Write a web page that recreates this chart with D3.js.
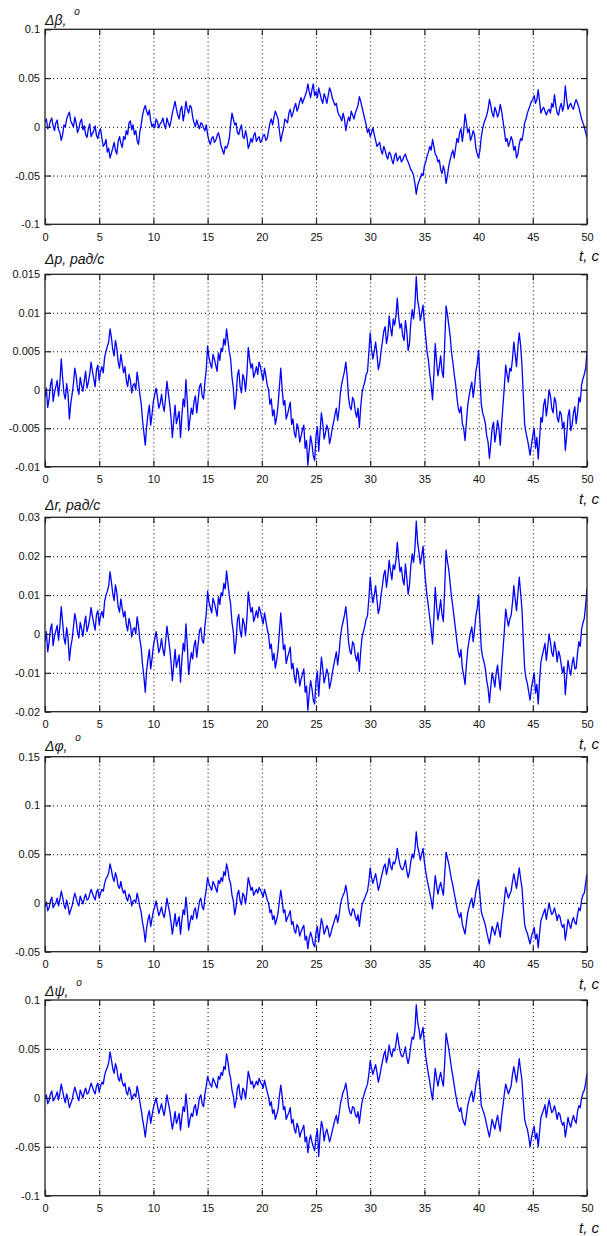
<!DOCTYPE html>
<html>
<head>
<meta charset="utf-8">
<script src="https://cdn.jsdelivr.net/npm/d3@7"></script>
<style>
  body { margin: 0; background: #fff; }
  svg text { font-family: "Liberation Sans", Arial, sans-serif; fill: #111; }
</style>
</head>
<body>
<svg id="chart" width="607" height="1236"></svg>
<script>
// Sampling of every series: one value each 0.125 s, from 0 to 50 s
const timeStep = 0.125;
const xTicks = [0, 5, 10, 15, 20, 25, 30, 35, 40, 45, 50];
const xTickLabels = ["0", "5", "10", "15", "20", "25", "30", "35", "40", "45", "50"];

// Series values, in thousandths of the unit shown on each panel (one row = 5 s)
const dBeta = [
  5,8,-2,0,6,9,1,-4,4,7,-3,-6,-14,-8,2,0,8,12,15,6,3,0,10,4,-6,-2,5,8,-3,1,-8,-11,-2,3,-10,-7,-4,1,-9,-12,
  -5,-2,-12,-20,-18,-13,-26,-22,-32,-27,-22,-16,-24,-28,-15,-10,-17,-21,-10,-13,-4,-8,4,6,-3,2,-8,-4,-14,-18,-5,2,12,18,22,16,12,17,6,0,
  3,-1,8,5,-1,3,5,9,2,-2,9,4,0,6,14,20,26,18,12,8,18,21,6,14,26,18,14,22,20,10,4,0,7,2,-2,4,3,-1,-4,2,
  -8,-14,-18,-12,-10,-16,-14,-9,-6,-12,-20,-24,-28,-20,-22,-18,-12,2,14,8,2,4,-6,-8,-2,2,-10,-12,-4,-10,-22,-18,-12,-16,-9,-6,-15,-12,-10,-16,
  -14,-9,-8,-14,-12,-4,4,8,2,10,16,12,8,-4,-15,-8,-2,8,6,4,14,18,10,14,20,24,16,20,26,30,24,28,32,36,44,36,30,38,44,32,
  36,30,40,34,28,24,34,30,24,32,40,36,30,26,22,24,16,12,10,6,14,8,-4,4,10,6,16,12,8,14,18,22,31,26,20,14,8,2,-6,-2,
  -10,-6,-1,-8,-14,-20,-18,-16,-24,-28,-20,-24,-30,-33,-26,-28,-34,-38,-30,-27,-35,-32,-30,-36,-34,-30,-28,-33,-36,-40,-44,-46,-50,-58,-69,-60,-56,-52,-48,-50,
  -40,-36,-30,-26,-20,-24,-13,-20,-28,-30,-36,-34,-44,-48,-40,-46,-58,-50,-40,-34,-28,-24,-32,-22,-12,-16,-6,-2,-15,-4,13,4,-6,-2,-14,-10,-4,-8,-22,-28,
  -32,-24,-10,-2,4,8,12,18,28,22,14,10,20,16,10,14,23,16,6,-4,-15,-12,-20,-16,-10,-14,-24,-20,-32,-28,-18,-12,-14,-6,4,8,14,18,22,26,
  28,32,24,28,38,26,14,18,20,16,12,16,18,14,24,20,33,22,14,12,20,24,16,22,42,28,18,22,24,20,18,24,28,24,20,14,8,4,0,-6,-11
];
const dP = [
  -1.0,0.2,-2.3,-1.2,0.6,1.4,-1.5,-0.4,0.4,1.2,-0.8,1.0,4.0,1.6,-0.5,-1.2,0.8,-0.6,-3.8,-1.8,-0.6,0.8,2.8,1.8,0.2,-0.6,1.6,0.6,-0.2,1.2,2.4,0.2,1.0,2.0,3.6,2.4,1.4,0.4,2.6,3.2,
  1.2,2.4,3.0,2.2,4.2,5.0,5.6,6.2,7.9,6.8,5.2,4.4,6.4,5.4,3.6,2.8,4.6,3.4,2.2,3.0,1.2,0.4,2.0,1.2,-0.4,0.6,0.8,0.0,2.3,1.0,-0.6,-1.8,-4.0,-5.6,-7.2,-4.8,-3.2,-2.0,-4.6,-3.2,
  -1.5,-0.6,0.2,-1.0,-2.4,-1.8,-0.6,-2.0,-2.8,-1.0,1.1,-0.4,-1.8,-3.6,-6.2,-4.0,-2.0,-4.4,-3.6,-2.8,-6.2,-3.4,-1.2,-2.2,1.3,-1.4,-5.3,-3.8,-2.4,-3.2,-1.5,-0.8,-3.0,-1.4,0.4,0.8,-0.8,-1.2,1.0,2.6,
  5.7,4.2,3.4,2.8,4.6,4.0,3.2,2.4,4.8,3.8,5.4,5.0,6.6,5.8,7.9,6.4,5.0,4.0,1.6,0.2,-2.5,-1.0,1.8,2.6,0.4,-0.4,2.0,1.4,-0.2,2.0,5.5,4.0,2.8,3.4,1.6,2.2,3.0,2.0,3.6,3.0,
  2.0,1.2,2.8,1.8,0.6,0.0,-1.9,-1.2,-3.4,-2.6,-4.5,-3.6,-2.0,0.4,2.8,0.2,-2.0,-1.4,-3.8,-3.2,-2.4,-1.6,-4.5,-3.8,-5.6,-6.2,-4.4,-5.0,-6.8,-6.0,-5.2,-4.6,-7.6,-6.6,-9.8,-7.8,-6.0,-7.0,-8.6,-9.2,
  -6.0,-4.8,-8.0,-5.4,-3.0,-4.4,-6.4,-5.6,-4.6,-5.2,-7.0,-6.2,-5.0,-4.2,-3.2,-2.4,-4.0,-2.6,-0.4,0.8,1.6,2.4,3.6,1.8,-1.0,-2.2,-2.6,-1.0,-1.4,-2.8,-3.6,-2.4,-4.9,-2.2,-0.4,0.4,1.0,2.0,2.3,4.8,
  7.4,5.2,4.0,5.0,6.2,4.6,2.6,3.4,5.0,6.2,7.6,8.2,6.0,7.0,9.6,8.0,7.0,9.2,8.4,9.6,11.9,9.4,8.0,8.6,7.0,6.4,9.0,7.6,5.1,6.0,8.8,10.4,9.2,11.0,14.7,11.6,10.6,9.0,10.0,11.0,
  8.6,6.8,4.9,3.8,2.0,0.6,-1.3,2.0,6.0,3.6,1.8,3.0,4.4,2.4,1.6,6.0,10.9,9.8,8.4,7.0,4.9,3.6,2.0,0.8,-1.0,-2.4,-3.0,-2.2,-4.4,-5.0,-6.6,-4.2,-2.0,-0.8,0.2,1.0,-1.0,0.4,2.4,3.4,
  5.1,1.4,-1.9,-3.0,-3.6,-4.4,-6.0,-6.8,-8.9,-7.0,-5.0,-4.2,-6.8,-5.6,-4.0,-5.0,-7.2,-4.4,-2.0,0.4,3.2,2.0,1.0,2.8,2.4,4.0,6.2,4.6,3.0,5.6,7.4,5.8,3.2,-0.8,-4.5,-5.6,-6.4,-7.4,-8.5,-7.2,
  -6.0,-5.0,-7.6,-6.2,-9.0,-6.4,-3.6,-4.2,-2.0,-1.2,-3.4,-2.0,0.0,-0.8,-2.4,-3.0,-1.0,-1.6,-3.6,-4.2,-2.8,-3.2,-5.0,-4.2,-7.9,-6.0,-3.4,-2.6,-5.3,-4.6,-3.0,-2.2,-4.4,-3.0,-1.0,-1.6,0.6,1.4,2.0,2.8,4.9
];
const dR = [
  -2.0,0.6,-4.6,-2.2,1.2,2.6,-3.0,-0.6,0.8,2.2,-1.6,2.0,7.0,3.0,-1.0,-2.6,1.6,-1.0,-6.8,-3.4,-1.4,1.8,5.2,3.4,0.4,-1.0,3.0,1.4,-0.6,2.4,4.6,0.6,2.0,4.0,6.8,4.6,2.6,1.0,5.0,6.0,
  2.4,4.6,5.8,4.2,8.4,10.0,11.0,12.4,16.0,13.4,10.4,8.6,12.6,10.6,7.0,5.6,9.0,6.6,4.4,5.8,2.4,0.8,4.0,2.4,-0.8,1.2,1.6,0.0,4.4,2.0,-1.4,-3.6,-8.0,-11.0,-15.0,-9.4,-6.4,-4.0,-9.0,-6.4,
  -3.0,-1.2,0.6,-2.0,-4.8,-3.6,-1.2,-4.0,-5.6,-2.0,2.0,-0.8,-3.6,-7.2,-12.0,-8.0,-4.0,-8.6,-7.0,-5.4,-12.4,-6.8,-2.4,-4.4,2.6,-2.8,-10.4,-7.4,-4.8,-6.4,-3.0,-1.6,-6.0,-2.8,0.8,1.6,-1.6,-2.4,2.0,5.2,
  11.0,8.2,6.8,5.4,9.2,8.0,6.4,4.6,9.6,7.6,10.6,9.8,13.0,11.6,16.2,13.0,10.0,7.6,3.0,0.4,-5.0,-2.0,3.6,5.0,0.8,-0.8,4.0,2.6,-0.4,3.8,10.8,8.0,5.6,6.8,3.2,4.4,6.0,4.2,7.0,5.8,
  4.0,2.6,5.4,3.4,1.2,-0.2,-3.8,-2.6,-6.8,-5.0,-8.8,-6.8,-4.0,0.6,5.4,0.8,-4.0,-2.8,-7.6,-6.0,-4.8,-3.4,-9.0,-7.6,-11.0,-12.6,-8.8,-10.0,-13.4,-11.6,-10.4,-9.0,-15.0,-13.4,-19.6,-15.4,-12.0,-14.0,-17.0,-18.0,
  -12.0,-9.6,-16.0,-10.8,-6.0,-9.0,-12.6,-11.0,-9.0,-10.4,-14.0,-12.4,-10.0,-8.2,-6.4,-4.6,-8.0,-5.0,-0.8,1.6,3.2,4.8,7.0,3.6,-2.0,-4.4,-5.2,-2.0,-2.8,-5.6,-7.0,-4.8,-9.6,-4.4,-0.8,0.6,2.0,3.8,4.6,9.0,
  14.6,10.6,8.0,10.0,12.4,8.8,5.2,6.8,10.0,12.4,15.2,16.4,12.0,14.8,19.0,16.2,14.0,17.8,16.6,19.0,23.6,19.4,16.0,17.2,14.0,12.6,18.0,14.4,10.2,12.6,17.6,20.6,18.4,22.0,29.0,23.6,21.0,18.0,20.0,22.6,
  17.0,13.0,9.6,7.0,4.0,1.0,-2.6,4.0,12.0,7.2,3.6,6.0,8.8,5.0,3.2,12.0,21.6,18.6,16.6,13.0,9.6,7.0,4.0,1.2,-2.0,-4.6,-6.0,-4.0,-8.8,-10.6,-13.0,-8.0,-4.0,-1.6,0.4,1.8,-2.0,1.0,4.8,6.6,
  10.0,3.0,-3.8,-6.0,-7.2,-9.0,-12.0,-14.0,-17.6,-13.6,-10.0,-11.6,-13.6,-10.0,-8.0,-11.6,-14.4,-8.8,-4.0,0.8,6.4,4.0,2.0,3.8,4.8,8.0,12.4,9.0,6.0,10.4,14.6,10.6,6.4,-1.6,-9.0,-11.4,-12.8,-15.0,-17.0,-13.8,
  -12.0,-10.0,-15.2,-13.0,-18.0,-12.0,-7.2,-5.6,-4.0,-2.4,-6.8,-3.6,0.0,-2.0,-4.8,-5.8,-2.0,-4.0,-7.2,-4.4,-5.6,-8.0,-10.0,-8.4,-15.6,-11.0,-6.8,-9.2,-10.6,-7.6,-6.0,-9.0,-8.8,-5.0,-2.0,-3.2,1.2,2.8,4.0,7.4,11.6
];
const dPhi = [
  -4,1,-8,-5,2,6,-5,-2,0,5,-3,4,12,6,-2,-6,3,-3,-12,-7,-3,4,10,5,0,-3,7,3,-1,5,9,3,4,9,14,10,6,3,11,14,
  5,10,14,12,20,25,27,31,40,34,26,22,31,26,17,15,22,14,10,13,5,2,9,6,-3,2,3,0,10,4,-4,-10,-20,-28,-40,-26,-17,-12,-24,-16,
  -8,-4,2,-6,-13,-9,-4,-11,-15,-6,5,-3,-10,-20,-32,-22,-11,-24,-19,-14,-32,-18,-7,-12,6,-8,-28,-20,-13,-17,-8,-5,-16,-8,2,5,-4,-7,5,14,
  26,20,16,13,22,19,15,11,23,20,26,22,32,28,40,34,24,20,8,2,-12,-4,9,13,2,-2,10,7,-1,11,26,20,13,16,8,11,14,10,16,13,
  10,6,14,9,3,0,-10,-7,-17,-13,-22,-17,-10,2,13,3,-10,-7,-19,-15,-12,-8,-22,-19,-28,-31,-22,-25,-34,-29,-26,-23,-38,-34,-47,-36,-30,-35,-42,-45,
  -30,-24,-40,-27,-16,-22,-32,-28,-23,-27,-35,-31,-25,-21,-16,-12,-20,-13,-2,4,8,11,18,10,-5,-11,-13,-6,-7,-14,-18,-12,-24,-12,-2,2,5,9,12,22,
  36,26,20,25,30,22,13,18,25,31,37,40,29,36,46,38,34,42,40,45,56,46,39,35,34,38,44,33,26,32,43,50,46,55,73,58,52,44,50,56,
  42,32,24,17,10,3,-6,11,28,18,9,16,21,14,8,30,52,46,40,32,24,18,10,3,-5,-11,-15,-10,-22,-27,-32,-20,-10,-4,1,5,-5,2,12,18,
  24,8,-9,-14,-18,-23,-30,-36,-42,-33,-24,-28,-33,-26,-20,-28,-35,-20,-10,3,16,10,5,9,12,22,30,22,15,26,36,25,16,-4,-22,-28,-31,-37,-42,-34,
  -30,-25,-37,-32,-46,-31,-18,-14,-10,-6,-17,-8,0,-7,-12,-10,-5,-11,-18,-12,-14,-21,-25,-22,-38,-28,-17,-22,-26,-19,-15,-20,-22,-12,-5,-8,3,8,10,20,30
];
const dPsi = [
  0,3,-6,-3,4,7,-3,-1,2,6,-2,5,14,7,0,-5,4,-2,-10,-6,-2,5,11,6,1,-3,8,4,0,6,10,4,5,10,15,11,7,4,12,15,
  6,12,16,14,23,28,31,36,47,39,30,25,35,30,20,17,25,16,12,15,6,3,11,7,-2,2,4,1,12,5,-4,-12,-22,-30,-40,-28,-18,-13,-26,-18,
  -10,-5,0,-8,-16,-11,-6,-13,-18,-8,3,-5,-12,-22,-32,-24,-14,-26,-22,-16,-33,-20,-9,-14,4,-10,-30,-22,-16,-19,-10,-7,-18,-10,0,3,-6,-9,4,12,
  22,17,14,11,20,17,13,10,22,19,26,23,32,29,45,37,26,20,8,2,-10,-3,10,14,2,-2,10,7,-1,12,27,21,14,17,10,13,17,13,20,16,
  14,10,18,12,6,1,-8,-4,-16,-12,-22,-17,-12,2,13,2,-12,-9,-22,-18,-15,-10,-26,-22,-32,-36,-26,-30,-40,-35,-32,-28,-45,-40,-56,-44,-38,-45,-50,-54,
  -40,-32,-60,-38,-24,-30,-44,-36,-32,-38,-45,-40,-34,-28,-22,-18,-26,-17,-6,0,6,9,15,6,-8,-14,-16,-9,-10,-17,-20,-14,-26,-14,-4,1,6,10,14,24,
  38,30,24,29,34,26,16,22,30,37,44,48,36,43,54,46,42,50,48,55,66,56,48,43,42,46,52,41,35,42,54,62,60,70,95,78,70,60,66,72,
  55,42,33,24,16,6,-2,14,30,20,12,20,26,18,12,36,66,58,50,40,30,22,13,4,-4,-10,-14,-10,-20,-25,-28,-18,-8,-2,3,7,-4,3,14,20,
  28,10,-8,-12,-16,-21,-28,-34,-40,-31,-22,-27,-32,-24,-18,-27,-34,-18,-8,4,14,9,4,8,12,24,32,24,16,28,40,28,18,-4,-22,-28,-32,-40,-50,-41,
  -34,-29,-42,-36,-50,-35,-20,-16,-12,-7,-20,-10,-2,-9,-15,-13,-8,-14,-22,-15,-17,-24,-28,-25,-40,-31,-20,-26,-30,-23,-18,-23,-26,-14,-8,-10,0,5,8,15,25
];

// Y tick values and their labels for each panel
const yTicksBeta = [-0.1, -0.05, 0, 0.05, 0.1];
const yLabelsBeta = ["-0.1", "-0.05", "0", "0.05", "0.1"];
const yTicksP = [-0.01, -0.005, 0, 0.005, 0.01, 0.015];
const yLabelsP = ["-0.01", "-0.005", "0", "0.005", "0.01", "0.015"];
const yTicksR = [-0.02, -0.01, 0, 0.01, 0.02, 0.03];
const yLabelsR = ["-0.02", "-0.01", "0", "0.01", "0.02", "0.03"];
const yTicksPhi = [-0.05, 0, 0.05, 0.1, 0.15];
const yLabelsPhi = ["-0.05", "0", "0.05", "0.1", "0.15"];
const yTicksPsi = [-0.1, -0.05, 0, 0.05, 0.1];
const yLabelsPsi = ["-0.1", "-0.05", "0", "0.05", "0.1"];

// Axis titles
const panelTitles = ["Δβ, ", "Δp, рад/с", "Δr, рад/с", "Δφ, ", "Δψ, "];
const panelDegree = [true, false, false, true, true];
const timeTitle = "t, с";

// Layout of the five stacked axes
const layout = [
  { top: 29.3,  bottom: 224.3, titleY: 25 },
  { top: 274.3, bottom: 466.7, titleY: 264 },
  { top: 517.3, bottom: 711.7, titleY: 509.5 },
  { top: 756.7, bottom: 951.7, titleY: 751 },
  { top: 1000,  bottom: 1195.7, titleY: 996 }
];
const left = 45, right = 587;

const panels = [
  { values: dBeta, ticks: yTicksBeta, labels: yLabelsBeta },
  { values: dP,    ticks: yTicksP,    labels: yLabelsP },
  { values: dR,    ticks: yTicksR,    labels: yLabelsR },
  { values: dPhi,  ticks: yTicksPhi,  labels: yLabelsPhi },
  { values: dPsi,  ticks: yTicksPsi,  labels: yLabelsPsi }
];

const svg = d3.select("#chart");
const x = d3.scaleLinear().domain([0, 50]).range([left, right]);
const axisColor = "#222";

panels.forEach((p, i) => {
  const L = layout[i];
  const y = d3.scaleLinear()
    .domain([p.ticks[0], p.ticks[p.ticks.length - 1]])
    .range([L.bottom, L.top]);
  const g = svg.append("g");

  // dotted grid
  const grid = g.append("g")
    .attr("stroke", "#000")
    .attr("stroke-width", 1)
    .attr("stroke-dasharray", "1,3");
  grid.selectAll("line.v").data(xTicks.slice(1, -1)).join("line")
    .attr("class", "v")
    .attr("x1", d => x(d) + 0.5).attr("x2", d => x(d) + 0.5)
    .attr("y1", L.top).attr("y2", L.bottom);
  grid.selectAll("line.h").data(p.ticks.slice(1, -1)).join("line")
    .attr("class", "h")
    .attr("x1", left).attr("x2", right)
    .attr("y1", d => y(d) + 0.5).attr("y2", d => y(d) + 0.5);

  // series
  const clipId = "clip" + i;
  g.append("clipPath").attr("id", clipId)
    .append("rect")
    .attr("x", left).attr("y", L.top)
    .attr("width", right - left).attr("height", L.bottom - L.top);
  const line = d3.line()
    .x((d, k) => x(k * timeStep))
    .y(d => y(d / 1000));
  g.append("path")
    .datum(p.values)
    .attr("clip-path", `url(#${clipId})`)
    .attr("fill", "none")
    .attr("stroke", "#0000ff")
    .attr("stroke-width", 1.3)
    .attr("stroke-linejoin", "round")
    .attr("d", line);

  // axes with inward ticks on all four sides
  const styleAxis = sel => {
    sel.select(".domain").remove();
    sel.selectAll(".tick line").attr("stroke", axisColor).attr("stroke-width", 1.2);
    sel.selectAll(".tick text").attr("fill", "#111").attr("font-size", 11);
  };
  g.append("g")
    .attr("transform", `translate(0,${L.bottom})`)
    .call(d3.axisBottom(x).tickValues(xTicks).tickSize(-6).tickPadding(9)
      .tickFormat((d, k) => xTickLabels[k]))
    .call(styleAxis);
  g.append("g")
    .attr("transform", `translate(0,${L.top})`)
    .call(d3.axisTop(x).tickValues(xTicks).tickSize(-6).tickFormat(""))
    .call(styleAxis);
  g.append("g")
    .attr("transform", `translate(${left},0)`)
    .call(d3.axisLeft(y).tickValues(p.ticks).tickSize(-6).tickPadding(5)
      .tickFormat((d, k) => p.labels[k]))
    .call(styleAxis);
  g.append("g")
    .attr("transform", `translate(${right},0)`)
    .call(d3.axisRight(y).tickValues(p.ticks).tickSize(-6).tickFormat(""))
    .call(styleAxis);

  // frame
  g.append("rect")
    .attr("x", left).attr("y", L.top)
    .attr("width", right - left).attr("height", L.bottom - L.top)
    .attr("fill", "none").attr("stroke", axisColor).attr("stroke-width", 1.3);

  // y title
  const t = g.append("text")
    .attr("x", left).attr("y", L.titleY)
    .attr("font-size", 14).attr("font-style", "italic")
    .text(panelTitles[i]);
  if (panelDegree[i]) {
    t.append("tspan").attr("dx", 4).attr("dy", -10).attr("font-size", 10).text("o");
  }

  // time title
  g.append("text")
    .attr("x", 599).attr("y", L.bottom + 37)
    .attr("text-anchor", "end")
    .attr("font-size", 15).attr("font-style", "italic")
    .text(timeTitle);
});
</script>
</body>
</html>
